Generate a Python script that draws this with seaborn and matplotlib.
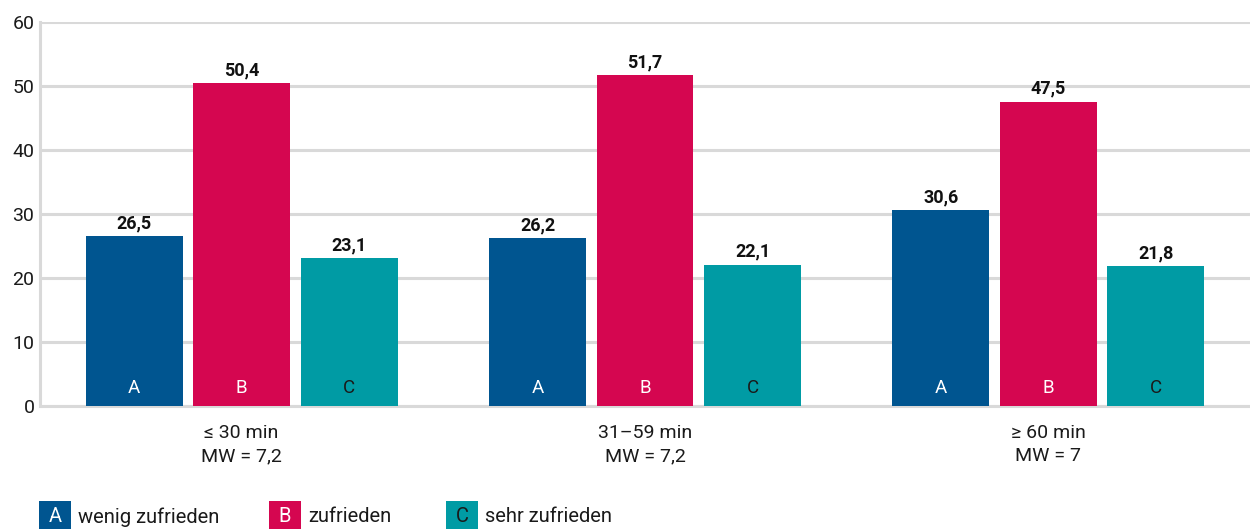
import matplotlib
matplotlib.use("Agg")
import matplotlib.pyplot as plt
import seaborn as sns
import pandas as pd
from matplotlib.patches import Rectangle

categories = ["≤ 30 min\nMW = 7,2", "31–59 min\nMW = 7,2", "≥ 60 min\nMW = 7"]
series = ["wenig zufrieden", "zufrieden", "sehr zufrieden"]
letters = ["A", "B", "C"]
values_a = [26.5, 26.2, 30.6]
values_b = [50.4, 51.7, 47.5]
values_c = [23.1, 22.1, 21.8]
colors = ["#005590", "#d50650", "#009ba4"]
letter_colors = ["white", "white", "#1a1a1a"]

rows = []
for s, vals in zip(series, [values_a, values_b, values_c]):
    for c, v in zip(categories, vals):
        rows.append({"cat": c, "series": s, "value": v})
df = pd.DataFrame(rows)

sns.set_theme(style="white")
plt.rcParams["font.family"] = ["Roboto", "DejaVu Sans"]

fig = plt.figure(figsize=(12.5, 5.29), dpi=100)
ax = fig.add_axes([0.032, 0.2325, 0.968, 0.7259])

sns.barplot(data=df, x="cat", y="value", hue="series", order=categories,
            hue_order=series, palette=colors, width=0.8, gap=0.1,
            saturation=1, legend=False, ax=ax, zorder=3, linewidth=0,
            edgecolor="none")

ax.set_xlim(-0.5, 2.5)
ax.set_ylim(0, 60)
ax.set_yticks(range(0, 61, 10))
ax.yaxis.grid(True, color="#d9d9d9", linewidth=2.2, zorder=0)
ax.set_axisbelow(True)
for side in ["top", "right"]:
    ax.spines[side].set_visible(False)
for side in ["left", "bottom"]:
    ax.spines[side].set_color("#d9d9d9")
    ax.spines[side].set_linewidth(2.2)
ax.tick_params(axis="both", length=0, labelsize=14, colors="#1a1a1a")
ax.tick_params(axis="x", pad=13)
ax.tick_params(axis="y", pad=4)
ax.set_xlabel("")
ax.set_ylabel("")
for lab in ax.get_xticklabels():
    lab.set_linespacing(1.35)

for i, cont in enumerate(ax.containers):
    ax.bar_label(cont, labels=[f"{v:.1f}".replace(".", ",") for v in cont.datavalues],
                 padding=3, fontsize=13, fontweight="bold", color="#111111")
    for bar in cont:
        ax.annotate(letters[i], (bar.get_x() + bar.get_width() / 2, 0),
                    xytext=(0, 13), textcoords="offset points",
                    ha="center", va="center", fontsize=13.5,
                    color=letter_colors[i], zorder=5)

# legend
W, H = 1250, 529
leg_x = [39, 269, 446]
for i, x0 in enumerate(leg_x):
    fig.patches.append(Rectangle((x0 / W, 0), 32 / W, 28 / H,
                                 transform=fig.transFigure, facecolor=colors[i],
                                 edgecolor="none"))
    fig.text((x0 + 16) / W, 12 / H, letters[i], ha="center", va="center",
             fontsize=14.5, color=letter_colors[i])
    fig.text((x0 + 39) / W, 12 / H, series[i], ha="left", va="center",
             fontsize=14.5, color="#1a1a1a")

fig.savefig("out.png", dpi=100)
